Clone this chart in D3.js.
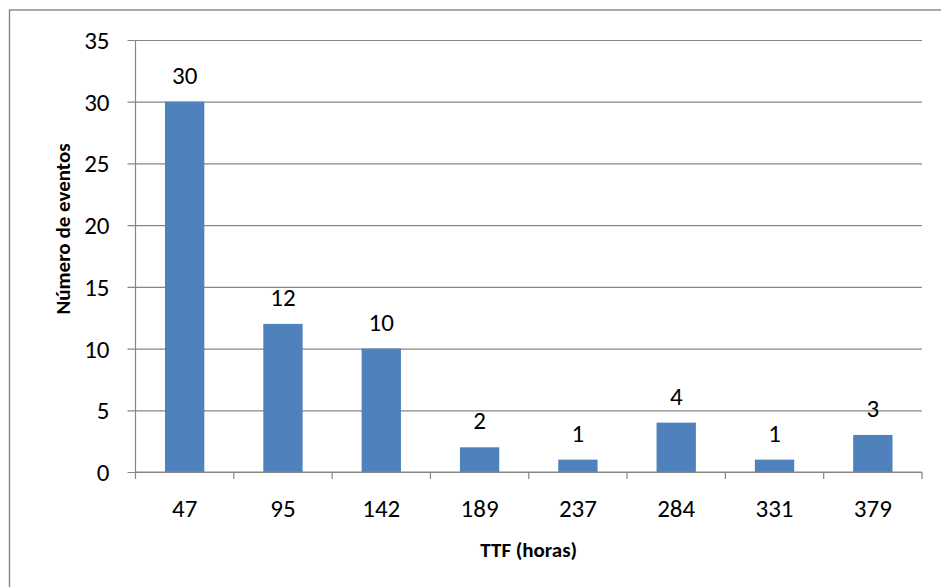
<!DOCTYPE html>
<html>
<head>
<meta charset="utf-8">
<script src="https://cdn.jsdelivr.net/npm/d3@7"></script>
<style>
  html, body { margin: 0; padding: 0; background: #fff; }
  svg { display: block; }
  text { font-family: Carlito, Lato, "Open Sans", sans-serif; fill: #000; }
</style>
</head>
<body>
<svg id="chart" width="941" height="587"></svg>
<script>
// TTF histogram: number of events per time-to-failure class
const categories = ["47", "95", "142", "189", "237", "284", "331", "379"];
const eventCounts = [30, 12, 10, 2, 1, 4, 1, 3];
const yTicks = [0, 5, 10, 15, 20, 25, 30, 35];
const xTitle = "TTF (horas)";
const yTitle = "Número de eventos";

const svg = d3.select("#chart");
const plot = { left: 135.5, right: 922, top: 40, bottom: 472 };
const gridColor = "#868686";
const labelSize = "25px";
const titleSize = "21px";

// outer chart frame
svg.append("rect")
  .attr("x", 9.5).attr("y", 10)
  .attr("width", 960).attr("height", 600)
  .attr("fill", "none")
  .attr("stroke", gridColor)
  .attr("stroke-width", 1.4);

const x = d3.scaleBand()
  .domain(categories)
  .range([plot.left, plot.right])
  .paddingInner(0.6)
  .paddingOuter(0.3);

const y = d3.scaleLinear()
  .domain([0, 35])
  .range([plot.bottom, plot.top]);

// horizontal gridlines with outward ticks
const yAxis = d3.axisLeft(y)
  .tickValues(yTicks)
  .tickSize(-(plot.right - plot.left))
  .tickFormat(d => d);

const gy = svg.append("g")
  .attr("transform", `translate(${plot.left},0)`)
  .call(yAxis);
gy.select(".domain").remove();
gy.selectAll(".tick line")
  .attr("x1", -8)
  .attr("x2", plot.right - plot.left)
  .attr("stroke", gridColor)
  .attr("stroke-width", 1.2);
gy.selectAll(".tick text")
  .attr("x", -26)
  .attr("dy", "0.34em")
  .style("font-size", labelSize)
  .style("font-family", "Carlito, Lato, 'Open Sans', sans-serif")
  .attr("fill", "#000");

// vertical axis line
svg.append("line")
  .attr("x1", plot.left).attr("x2", plot.left)
  .attr("y1", plot.top).attr("y2", plot.bottom)
  .attr("stroke", gridColor).attr("stroke-width", 1.2);

// bars
svg.append("g").selectAll("rect")
  .data(eventCounts)
  .join("rect")
  .attr("x", (d, i) => x(categories[i]))
  .attr("y", d => y(d))
  .attr("width", x.bandwidth())
  .attr("height", d => y(0) - y(d))
  .attr("fill", "#4F81BD");

// value labels
svg.append("g").selectAll("text")
  .data(eventCounts)
  .join("text")
  .attr("x", (d, i) => x(categories[i]) + x.bandwidth() / 2)
  .attr("y", d => y(d) - 18)
  .attr("text-anchor", "middle")
  .style("font-size", labelSize)
  .text(d => d);

// category axis: baseline and ticks at class boundaries
svg.append("line")
  .attr("x1", plot.left).attr("x2", plot.right)
  .attr("y1", plot.bottom).attr("y2", plot.bottom)
  .attr("stroke", gridColor).attr("stroke-width", 1.2);

const boundaries = categories.map(c => x(c) - (x.step() - x.bandwidth()) / 2);
boundaries.push(plot.right);
svg.append("g").selectAll("line")
  .data(boundaries)
  .join("line")
  .attr("x1", d => d).attr("x2", d => d)
  .attr("y1", plot.bottom).attr("y2", plot.bottom + 7)
  .attr("stroke", gridColor).attr("stroke-width", 1.2);

svg.append("g").selectAll("text")
  .data(categories)
  .join("text")
  .attr("x", d => x(d) + x.bandwidth() / 2)
  .attr("y", plot.bottom + 45)
  .attr("text-anchor", "middle")
  .style("font-size", labelSize)
  .text(d => d);

// axis titles
svg.append("text")
  .attr("x", (plot.left + plot.right) / 2)
  .attr("y", 557)
  .attr("text-anchor", "middle")
  .style("font-size", titleSize)
  .style("font-weight", "bold")
  .text(xTitle);

svg.append("text")
  .attr("transform", "translate(70,229) rotate(-90)")
  .attr("text-anchor", "middle")
  .style("font-size", titleSize)
  .style("font-weight", "bold")
  .text(yTitle);
</script>
</body>
</html>
